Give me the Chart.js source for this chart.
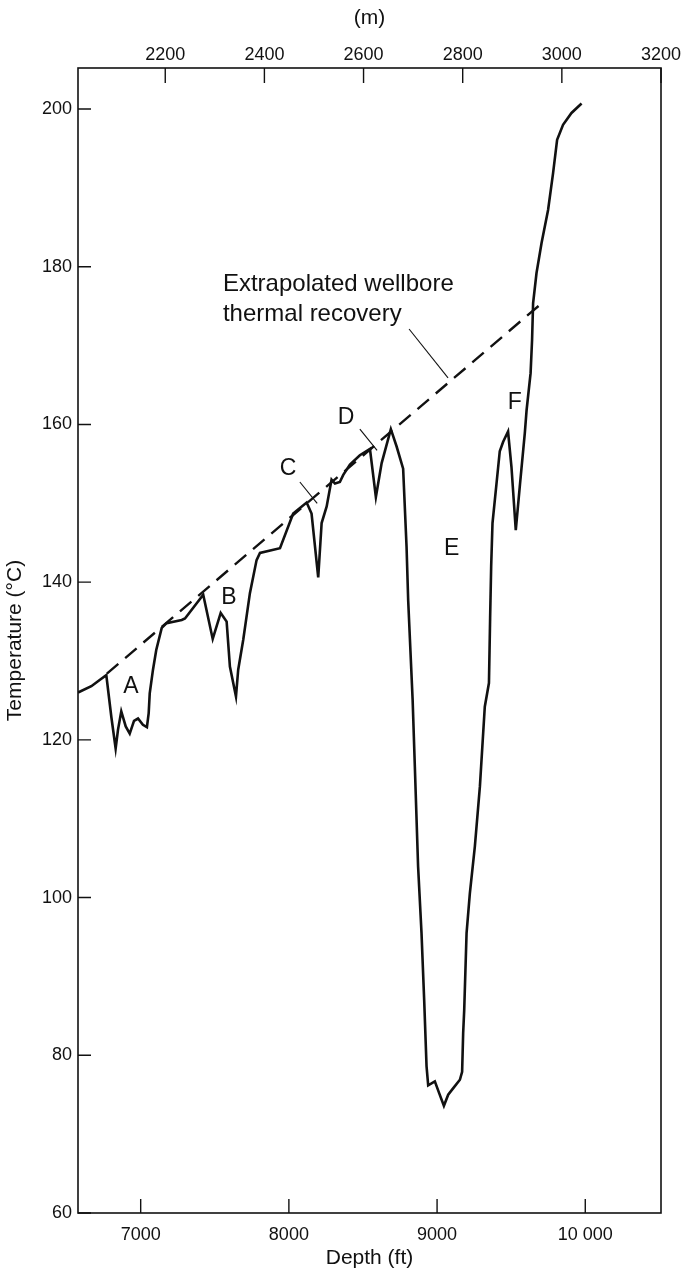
<!DOCTYPE html>
<html>
<head>
<meta charset="utf-8">
<script src="https://cdn.jsdelivr.net/npm/chart.js@4.4.1/dist/chart.umd.min.js"></script>
<style>
  body { margin: 0; background: #fff; }
  canvas { display: block; }
</style>
</head>
<body>
<canvas id="wellChart" width="682" height="1271"></canvas>
<script>
// temperature log vs depth
const depthFt = [6577, 6667, 6723, 6768, 6802, 6831, 6847, 6869, 6899, 6926, 6955, 6982, 7015, 7042,
    7054, 7061, 7083, 7105, 7142, 7175, 7277, 7299, 7422, 7486, 7540, 7580, 7602, 7643, 7658, 7692,
    7737, 7782, 7805, 7940, 8029, 8120, 8153, 8198, 8221, 8255, 8288, 8311, 8344, 8367, 8412, 8479,
    8547, 8587, 8626, 8688, 8727, 8771, 8794, 8805, 8835, 8850, 8872, 8895, 8913, 8929, 8940, 8985,
    9014, 9046, 9075, 9108, 9154, 9169, 9176, 9183, 9199, 9221, 9255, 9289, 9322, 9350, 9358, 9365,
    9374, 9401, 9423, 9446, 9479, 9502, 9531, 9558, 9592, 9604, 9631, 9641, 9648, 9671, 9705, 9749,
    9783, 9810, 9850, 9907, 9975];
const tempC = [126.0, 126.8, 127.6, 128.2, 122.9, 118.9, 121.3, 123.6, 121.7, 120.8, 122.4, 122.7, 121.9, 121.6,
    123.4, 125.9, 128.9, 131.4, 134.2, 134.8, 135.2, 135.4, 138.4, 132.8, 136.1, 135.0, 129.3, 125.5, 128.9, 132.7,
    138.6, 142.8, 143.7, 144.3, 148.7, 150.1, 148.7, 140.6, 147.5, 149.6, 153.0, 152.5, 152.7, 153.6, 154.9, 156.1,
    156.9, 150.8, 155.1, 159.4, 157.2, 154.4, 144.5, 137.7, 125.1, 116.6, 103.9, 95.5, 87.0, 78.6, 76.2, 76.7,
    75.2, 73.6, 75.0, 75.8, 76.9, 77.9, 82.8, 85.7, 95.5, 100.5, 106.5, 114.1, 124.2, 127.2, 135.5, 142.0,
    147.5, 152.5, 156.6, 157.8, 159.1, 154.6, 146.6, 152.1, 158.9, 161.8, 166.5, 170.7, 175.4, 179.2, 183.0, 187.2,
    191.9, 196.1, 198.0, 199.5, 200.7];

// extrapolated recovery line
const dashDepth = [6772, 9727];
const dashTemp = [128.4, 175.7];

// axis ticks
const depthTicks = [7000, 8000, 9000, 10000];
const depthTickLabels = ['7000', '8000', '9000', '10 000'];
const meterTicks = [2200, 2400, 2600, 2800, 3000, 3200];
const tempTicks = [60, 80, 100, 120, 140, 160, 180, 200];

// letters on the curve
const markLetters = ['A', 'B', 'C', 'D', 'E', 'F'];
const markDepth = [6934, 7596, 7995, 8385, 9098, 9525];
const markTemp = [126.8, 138.0, 154.4, 160.8, 144.2, 162.7];

// leader lines (from, to)
const leaders = [
    { x: [8811, 9074], y: [172.1, 165.9] },
    { x: [8074, 8191], y: [152.7, 150.0] },
    { x: [8479, 8595], y: [159.4, 156.7] }
];
const noteLines = ['Extrapolated wellbore', 'thermal recovery'];
const noteAt = { x: 7555, y: [177.8, 173.9] };

const pts = (xs, ys) => xs.map((v, i) => ({ x: v, y: ys[i] }));

Chart.defaults.font.family = "'Liberation Sans', Arial, sans-serif";
Chart.defaults.color = '#111';

const datasets = [
    {
        data: pts(depthFt, tempC),
        borderColor: '#111',
        borderWidth: 2.6,
        pointRadius: 0,
        tension: 0
    },
    {
        data: pts(dashDepth, dashTemp),
        borderColor: '#111',
        borderWidth: 2.4,
        borderDash: [15, 9],
        pointRadius: 0
    }
];
leaders.forEach(l => {
    datasets.push({
        data: pts(l.x, l.y),
        borderColor: '#111',
        borderWidth: 1.1,
        pointRadius: 0
    });
});

// frame, inward ticks and text labels
const framePlugin = {
    id: 'frame',
    afterDraw(chart) {
        const { ctx, chartArea: a, scales } = chart;
        ctx.save();
        ctx.strokeStyle = '#111';
        ctx.lineWidth = 1.6;
        ctx.strokeRect(a.left, a.top, a.right - a.left, a.bottom - a.top);
        ctx.lineWidth = 1.4;
        ctx.beginPath();
        depthTicks.forEach(v => {
            const px = scales.x.getPixelForValue(v);
            ctx.moveTo(px, a.bottom); ctx.lineTo(px, a.bottom - 14);
        });
        meterTicks.forEach(v => {
            const px = scales.x2.getPixelForValue(v);
            ctx.moveTo(px, a.top); ctx.lineTo(px, a.top + 15);
        });
        tempTicks.forEach(v => {
            const py = scales.y.getPixelForValue(v);
            ctx.moveTo(a.left, py); ctx.lineTo(a.left + 13, py);
        });
        ctx.stroke();

        ctx.fillStyle = '#111';
        ctx.font = "23px 'Liberation Sans', Arial, sans-serif";
        ctx.textAlign = 'center';
        ctx.textBaseline = 'middle';
        markLetters.forEach((t, i) => {
            ctx.fillText(t, scales.x.getPixelForValue(markDepth[i]), scales.y.getPixelForValue(markTemp[i]));
        });
        ctx.font = "24px 'Liberation Sans', Arial, sans-serif";
        ctx.textAlign = 'left';
        noteLines.forEach((t, i) => {
            ctx.fillText(t, scales.x.getPixelForValue(noteAt.x), scales.y.getPixelForValue(noteAt.y[i]));
        });
        ctx.restore();
    }
};

new Chart(document.getElementById('wellChart'), {
    type: 'line',
    data: { datasets: datasets },
    options: {
        responsive: false,
        devicePixelRatio: 1,
        animation: false,
        layout: { padding: { left: 0, right: 21, top: 0, bottom: 0 } },
        plugins: { legend: { display: false }, tooltip: { enabled: false } },
        scales: {
            x: {
                type: 'linear',
                position: 'bottom',
                min: 6577,
                max: 10511,
                grid: { display: false, drawTicks: false },
                border: { display: false },
                afterBuildTicks: s => { s.ticks = depthTicks.map(v => ({ value: v })); },
                afterFit: s => { s.height = 58; s.paddingLeft = 0; s.paddingRight = 0; },
                ticks: {
                    autoSkip: false,
                    maxRotation: 0,
                    padding: 11,
                    font: { size: 18 },
                    callback: v => depthTickLabels[depthTicks.indexOf(v)]
                },
                title: { display: true, text: 'Depth (ft)', font: { size: 21 }, padding: { top: 0, bottom: 0 } }
            },
            x2: {
                type: 'linear',
                position: 'top',
                min: 2024,
                max: 3200,
                grid: { display: false, drawTicks: false },
                border: { display: false },
                afterBuildTicks: s => { s.ticks = meterTicks.map(v => ({ value: v })); },
                afterFit: s => { s.height = 68; s.paddingLeft = 0; s.paddingRight = 0; },
                ticks: { autoSkip: false, maxRotation: 0, padding: 2, font: { size: 18 }, callback: v => String(v) },
                title: { display: true, text: '(m)', font: { size: 21 }, padding: { top: 6, bottom: 0 } }
            },
            y: {
                type: 'linear',
                min: 60,
                max: 205.2,
                grid: { display: false, drawTicks: false },
                border: { display: false },
                afterBuildTicks: s => { s.ticks = tempTicks.map(v => ({ value: v })); },
                afterFit: s => { s.width = 78; },
                ticks: { autoSkip: false, padding: 6, font: { size: 18 }, callback: v => String(v) },
                title: { display: true, text: 'Temperature (°C)', font: { size: 21 }, padding: { top: 3, bottom: 0 } }
            }
        }
    },
    plugins: [framePlugin]
});
</script>
</body>
</html>
